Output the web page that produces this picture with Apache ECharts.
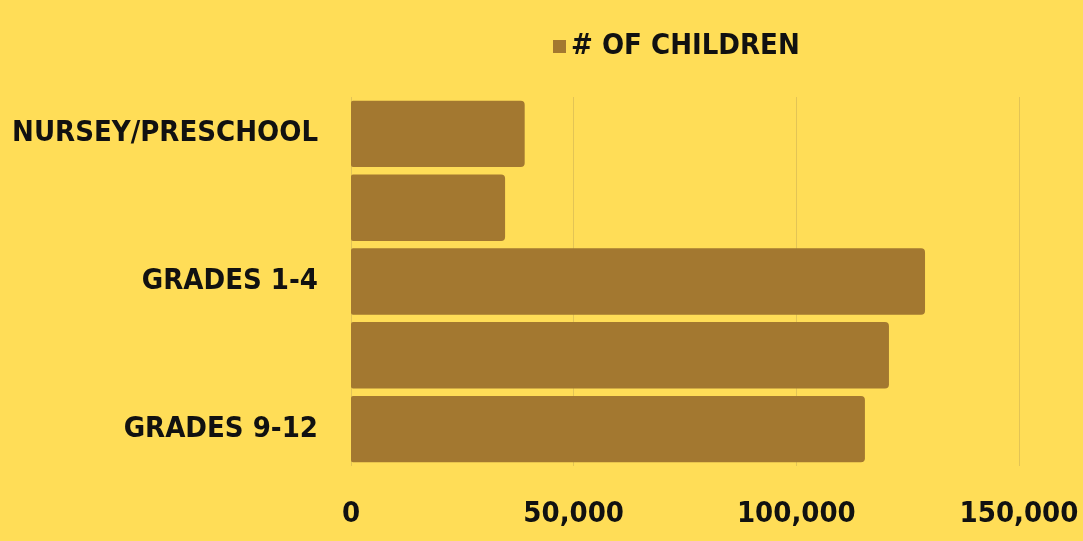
<!DOCTYPE html>
<html>
<head>
<meta charset="utf-8">
<script src="https://cdn.jsdelivr.net/npm/echarts@6/dist/echarts.min.js"></script>
<style>
html,body{margin:0;padding:0;background:#FFDD57;}
#c{width:1083px;height:541px;}
</style>
</head>
<body>
<div id="c"></div>
<script>
const categories = ['NURSEY/PRESCHOOL', 'KINDERGARTEN', 'GRADES 1-4', 'GRADES 5-8', 'GRADES 9-12'];
const children = [39000, 34600, 128900, 120800, 115400];
const xTicks = [0, 50000, 100000, 150000];
const seriesName = '# OF CHILDREN';

const FONT = "'DejaVu Sans Condensed', 'Liberation Sans Narrow', sans-serif";
const chart = echarts.init(document.getElementById('c'));
chart.setOption({
  backgroundColor: '#FFDD57',
  animation: false,
  textStyle: { fontFamily: FONT },
  legend: {
    top: 27,
    left: 548,
    itemWidth: 13,
    itemHeight: 13,
    itemGap: 11,
    icon: 'rect',
    textStyle: { fontFamily: FONT, fontSize: 29, fontWeight: 'bold', color: '#111' },
    data: [seriesName]
  },
  grid: { left: 351, right: 64, top: 97, bottom: 75, outerBoundsMode: 'none', containLabel: false },
  xAxis: {
    type: 'value',
    min: xTicks[0],
    max: xTicks[xTicks.length - 1],
    interval: xTicks[1] - xTicks[0],
    axisLine: { show: false },
    axisTick: { show: false },
    splitLine: { lineStyle: { color: '#E3C455', width: 1 } },
    axisLabel: {
      margin: 34,
      fontFamily: FONT,
      fontSize: 29,
      fontWeight: 'bold',
      color: '#111',
      formatter: v => v.toLocaleString('en-US')
    }
  },
  yAxis: {
    type: 'category',
    inverse: true,
    data: categories,
    axisLine: { show: false },
    axisTick: { show: false },
    splitLine: { show: false },
    axisLabel: {
      interval: 1,
      margin: 33,
      fontFamily: FONT,
      fontSize: 29,
      fontWeight: 'bold',
      color: '#111'
    }
  },
  series: [{
    name: seriesName,
    type: 'bar',
    data: children,
    barCategoryGap: '10%',
    itemStyle: { color: '#A37830', borderRadius: [2, 4, 4, 2] }
  }]
});
</script>
</body>
</html>
